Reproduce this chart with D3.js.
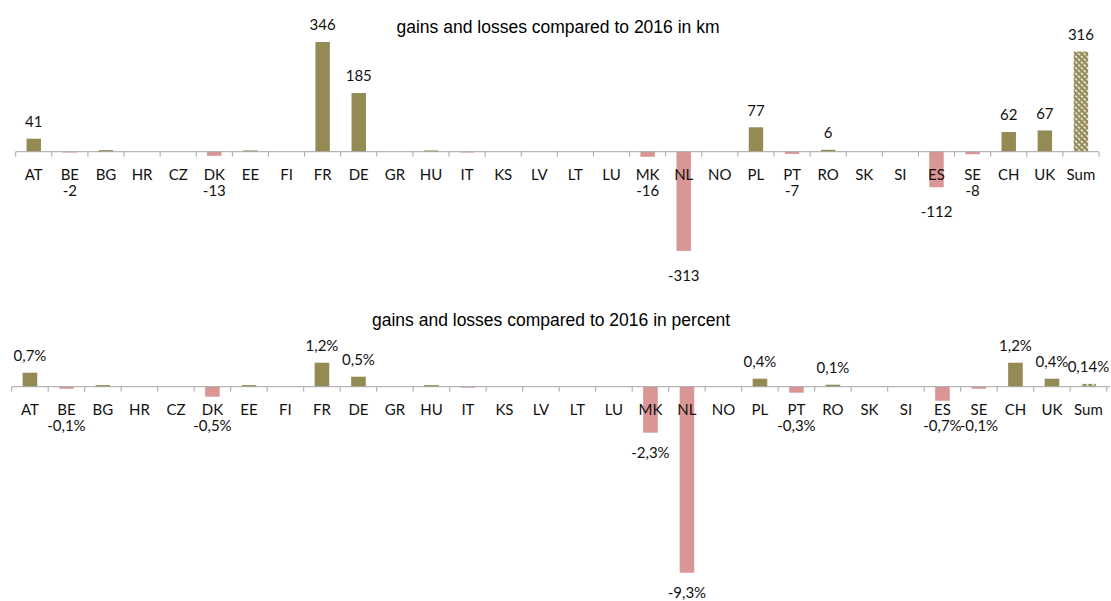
<!DOCTYPE html>
<html lang="en">
<head>
<meta charset="utf-8">
<title>gains and losses compared to 2016</title>
<script src="https://d3js.org/d3.v7.min.js"></script>
<style>
  body { margin: 0; background: #fff; }
  svg { display: block; }
  .cat, .val { font-family: Lato, "Open Sans", sans-serif; font-size: 15px; fill: #111; }
  .title { font-family: "Liberation Sans", Arial, sans-serif; font-size: 17.5px; fill: #000; }
</style>
</head>
<body>
<div id="chart"></div>
<script>
// categories (countries + sum)
var countries = ["AT","BE","BG","HR","CZ","DK","EE","FI","FR","DE","GR","HU","IT","KS","LV","LT","LU","MK","NL","NO","PL","PT","RO","SK","SI","ES","SE","CH","UK","Sum"];

// gains and losses in km
var kmValues = [41,-2,5,0,0,-13,4,0,346,185,0,4,-2,0,0,0,0,-16,-313,0,77,-7,6,0,0,-112,-8,62,67,316];

// gains and losses in percent
var pctValues = [0.7,-0.1,0.08,0,0,-0.5,0.08,0,1.2,0.5,0,0.08,-0.05,0,0,0,0,-2.3,-9.3,0,0.4,-0.3,0.1,0,0,-0.7,-0.1,1.2,0.4,0.14];

// bars whose data label is not shown
var unlabelled = ["BG","EE","HU","IT"];

var W = 1111, H = 601;
var olive = "#948a54", pink = "#d99694";

var svg = d3.select("#chart").append("svg")
  .attr("width", W)
  .attr("height", H);

// hatch pattern for the Sum bar
var pat = svg.append("defs").append("pattern")
  .attr("id", "hatch")
  .attr("patternUnits", "userSpaceOnUse")
  .attr("width", 4)
  .attr("height", 4)
  .attr("patternTransform", "rotate(-45)");
pat.append("rect").attr("width", 4).attr("height", 4).attr("fill", olive);
pat.append("rect").attr("x", 0).attr("y", 0).attr("width", 1.4).attr("height", 2.6).attr("fill", "#fff");

function drawPanel(opt) {
  var data = countries.map(function(c, i) { return { name: c, value: opt.values[i] }; });

  var x = d3.scaleBand()
    .domain(countries)
    .range(opt.xRange)
    .padding(0);

  var y = d3.scaleLinear()
    .domain(opt.yDomain)
    .range(opt.yRange);

  var g = svg.append("g");
  var y0 = y(0);
  var bw = x.bandwidth() * 0.4;

  // title
  g.append("text")
    .attr("class", "title")
    .attr("x", opt.titleX)
    .attr("y", opt.titleY)
    .attr("text-anchor", "middle")
    .text(opt.title);

  // bars
  g.selectAll("rect.bar")
    .data(data.filter(function(d) { return d.value !== 0; }))
    .enter()
    .append("rect")
      .attr("class", "bar")
      .attr("x", function(d) { return x(d.name) + (x.bandwidth() - bw) / 2; })
      .attr("y", function(d) { return y(Math.max(0, d.value)); })
      .attr("width", bw)
      .attr("height", function(d) { return Math.max(0.8, Math.abs(y(d.value) - y0)); })
      .attr("fill", function(d) {
        if (d.name === "Sum") return "url(#hatch)";
        return d.value < 0 ? pink : olive;
      });

  // axis line + tick marks between categories
  g.append("line")
    .attr("x1", opt.xRange[0]).attr("x2", opt.axisEnd)
    .attr("y1", y0).attr("y2", y0)
    .attr("stroke", "#a6a6a6")
    .attr("stroke-width", 1);

  var bounds = countries.map(function(c) { return x(c); }).concat([opt.xRange[1]]);
  g.selectAll("line.tick")
    .data(bounds)
    .enter()
    .append("line")
      .attr("class", "tick")
      .attr("x1", function(d) { return d; })
      .attr("x2", function(d) { return d; })
      .attr("y1", y0)
      .attr("y2", y0 + 5)
      .attr("stroke", "#a6a6a6")
      .attr("stroke-width", 1);

  // category labels
  g.selectAll("text.cat")
    .data(countries)
    .enter()
    .append("text")
      .attr("class", "cat")
      .attr("x", function(d) { return x(d) + x.bandwidth() / 2; })
      .attr("y", y0 + 23)
      .attr("dy", "0.35em")
      .attr("text-anchor", "middle")
      .text(function(d) { return d; });

  // value labels
  g.selectAll("text.val")
    .data(data.filter(function(d) { return d.value !== 0 && unlabelled.indexOf(d.name) < 0; }))
    .enter()
    .append("text")
      .attr("class", "val")
      .attr("x", function(d) { return x(d.name) + x.bandwidth() / 2; })
      .attr("y", function(d) {
        if (d.value > 0) return y(d.value) - 17;
        return Math.max(y(d.value) + opt.negGap, y0 + 39);
      })
      .attr("dy", "0.35em")
      .attr("text-anchor", "middle")
      .text(function(d) { return opt.format(d.value); });
}

drawPanel({
  title: "gains and losses compared to 2016 in km",
  titleX: 558, titleY: 33,
  values: kmValues,
  xRange: [15.7, 1099], axisEnd: 1099,
  yDomain: [-400, 400], yRange: [278.5, 24.9],
  negGap: 25,
  format: function(v) { return String(v); }
});

drawPanel({
  title: "gains and losses compared to 2016 in percent",
  titleX: 551, titleY: 326,
  values: pctValues,
  xRange: [11.7, 1106.7], axisEnd: 1110,
  yDomain: [-10, 2], yRange: [586.7, 346.7],
  negGap: 20,
  format: function(v) { return String(v).replace(".", ",") + "%"; }
});
</script>
</body>
</html>
